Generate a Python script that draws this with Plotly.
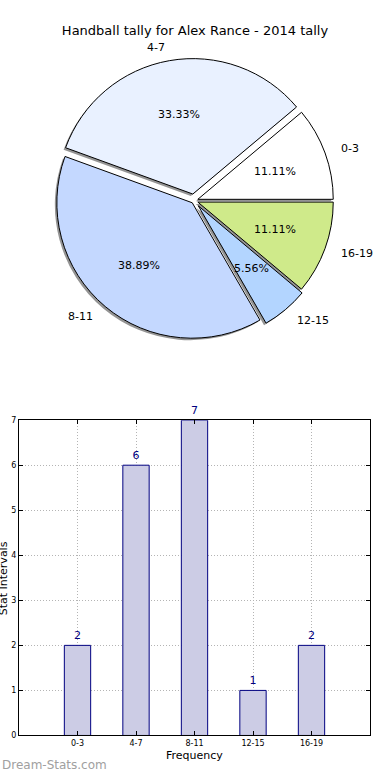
import math
import plotly.graph_objects as go

# ---------------- data ----------------
categories = ["0-3", "4-7", "8-11", "12-15", "16-19"]
counts = [2, 6, 7, 1, 2]
pie_colors = ["#ffffff", "#e9f1ff", "#c4d8ff", "#b3d5ff", "#cfea8a"]
pulls = [0.03, 0.05, 0.02, 0.05, 0.03]
y_ticks = [0, 1, 2, 3, 4, 5, 6, 7]

title_text = "Handball tally for Alex Rance - 2014 tally"
x_title = "Frequency"
y_title = "Stat Intervals"
watermark = "Dream-Stats.com"

W, H = 390, 780
FONT = "DejaVu Sans"
PIE_CX, PIE_CY, PIE_R = 194.0, 199.0, 137.0
SHADOW_DX, SHADOW_DY = -2.0, 2.0

max_pull = max(pulls)
half_box = PIE_R * (1 + max_pull)
total = sum(counts)
# plotly (counterclockwise) puts the END of the first slice at `rotation`;
# shift so the first slice STARTS at 3 o'clock (matplotlib default).
pie_rotation = 90 - 360.0 * counts[0] / total


def px_to_paper(x, y):
    return x / W, 1 - y / H


def pie_domain(dx=0.0, dy=0.0):
    x0, y0 = px_to_paper(PIE_CX - half_box + dx, PIE_CY + half_box + dy)
    x1, y1 = px_to_paper(PIE_CX + half_box + dx, PIE_CY - half_box + dy)
    return dict(x=[x0, x1], y=[y0, y1])


fig = go.Figure()
# shadow pie
fig.add_trace(go.Pie(
    labels=categories, values=counts, sort=False,
    direction="counterclockwise", rotation=pie_rotation, pull=pulls,
    marker=dict(colors=["rgba(0,0,0,0.42)"] * len(counts), line=dict(width=0)),
    textinfo="none", hoverinfo="skip", showlegend=False,
    domain=pie_domain(SHADOW_DX, SHADOW_DY),
))
# main pie
fig.add_trace(go.Pie(
    labels=categories, values=counts, sort=False,
    direction="counterclockwise", rotation=pie_rotation, pull=pulls,
    marker=dict(colors=pie_colors, line=dict(color="#000000", width=1)),
    textinfo="none", hoverinfo="skip", showlegend=False,
    domain=pie_domain(),
))

annotations = []
cum = 0.0
for cat, v, p in zip(categories, counts, pulls):
    mid = math.radians(360.0 * (cum + v / 2.0) / total)
    cum += v
    c, s = math.cos(mid), math.sin(mid)
    d = (0.6 + p) * PIE_R
    xp, yp = px_to_paper(PIE_CX + d * c, PIE_CY - d * s)
    annotations.append(dict(
        x=xp, y=yp, xref="paper", yref="paper", showarrow=False,
        text=f"{100.0 * v / total:.2f}%", xanchor="center", yanchor="middle",
        font=dict(family=FONT, size=11, color="#000000")))
    d = (1.1 + p) * PIE_R
    xp, yp = px_to_paper(PIE_CX + d * c, PIE_CY - d * s)
    annotations.append(dict(
        x=xp, y=yp, xref="paper", yref="paper", showarrow=False,
        text=cat, xanchor="left" if c > 0 else "right", yanchor="middle",
        font=dict(family=FONT, size=11, color="#000000")))

# ---------------- bar chart ----------------
x_pos = list(range(len(categories)))
fig.add_trace(go.Bar(
    x=x_pos, y=counts, width=0.45,
    marker=dict(color="#cccce5", line=dict(color="#000080", width=1)),
    text=[str(v) for v in counts], textposition="outside",
    textfont=dict(family=FONT, size=11, color="#000080"),
    cliponaxis=False, hoverinfo="skip", showlegend=False,
    xaxis="x", yaxis="y",
))

ax_x0, ax_x1 = 19, 370
ax_y0, ax_y1 = 421, 740
grid_style = dict(showgrid=True, gridcolor="#b4b4b4", griddash="1px,2px", gridwidth=1)

fig.update_layout(
    width=W, height=H, autosize=False,
    margin=dict(l=0, r=0, t=0, b=0),
    paper_bgcolor="#ffffff", plot_bgcolor="#ffffff",
    font=dict(family=FONT, color="#000000"),
    title=dict(text=title_text, x=0.5, xanchor="center",
               y=1 - 30 / H, yanchor="middle",
               font=dict(family=FONT, size=13, color="#000000")),
    xaxis=dict(
        domain=[ax_x0 / W, ax_x1 / W], range=[-1, len(categories)],
        tickmode="array", tickvals=x_pos, ticktext=categories,
        tickfont=dict(family=FONT, size=8, color="#000000"),
        ticks="inside", ticklen=4, tickcolor="#000000",
        showline=True, linecolor="#000000", linewidth=1, mirror="allticks",
        zeroline=False, fixedrange=True, anchor="y", **grid_style,
    ),
    yaxis=dict(
        domain=[1 - ax_y1 / H, 1 - ax_y0 / H], range=[0, 7],
        tickmode="array", tickvals=y_ticks,
        tickfont=dict(family=FONT, size=8, color="#000000"),
        ticks="inside", ticklen=4, tickcolor="#000000",
        showline=True, linecolor="#000000", linewidth=1, mirror="allticks",
        zeroline=False, fixedrange=True, anchor="x", **grid_style,
    ),
    bargap=0,
)

annotations.append(dict(
    x=(ax_x0 + ax_x1) / 2 / W, y=1 - 760 / H, xref="paper", yref="paper",
    showarrow=False, text=x_title, xanchor="center", yanchor="middle",
    font=dict(family=FONT, size=11, color="#000000")))
annotations.append(dict(
    x=3 / W, y=1 - 581 / H, xref="paper", yref="paper",
    showarrow=False, text=y_title, textangle=-90, xanchor="center", yanchor="middle",
    font=dict(family=FONT, size=11, color="#000000")))
annotations.append(dict(
    x=0, y=1 - 770 / H, xref="paper", yref="paper",
    showarrow=False, text=watermark, xanchor="left", yanchor="middle",
    font=dict(family=FONT, size=12, color="#a0a0a0")))

fig.update_layout(annotations=annotations)

post = (
    "var de=document.documentElement, b=document.body;"
    "[de,b].forEach(function(e){e.style.margin='0';e.style.padding='0';e.style.overflow='hidden';});"
    "document.querySelectorAll('.plotly-graph-div').forEach(function(e){"
    "e.style.overflow='hidden';e.style.lineHeight='0';e.style.fontSize='0';});"
    "document.querySelectorAll('.svg-container').forEach(function(e){e.style.display='block';});"
)
fig.write_html("out.html", config={"displayModeBar": False, "staticPlot": True},
               post_script=post)
